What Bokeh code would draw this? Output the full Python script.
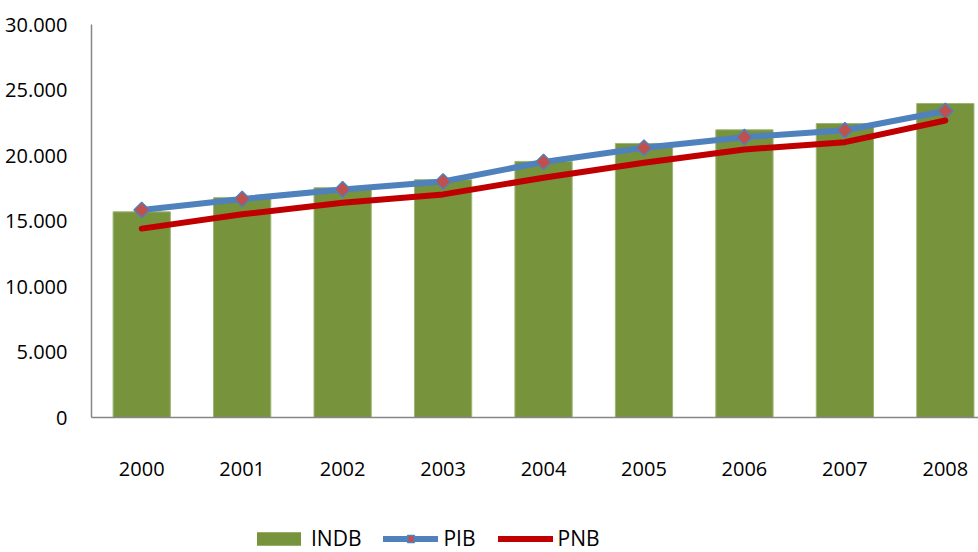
from bokeh.plotting import figure
from bokeh.layouts import column
from bokeh.models import Range1d, FixedTicker, Legend, LegendItem, ColumnDataSource
from bokeh.embed import file_html
from bokeh.resources import INLINE
import math

years = ["2000", "2001", "2002", "2003", "2004", "2005", "2006", "2007", "2008"]
indb = [15700, 16780, 17540, 18150, 19550, 20920, 21960, 22440, 23970]
pib = [15840, 16680, 17410, 18020, 19500, 20590, 21400, 21930, 23400]
pnb = [14420, 15510, 16400, 17030, 18300, 19450, 20460, 21020, 22670]
y_ticks = [0, 5000, 10000, 15000, 20000, 25000, 30000]
y_labels = ["0", "5.000", "10.000", "15.000", "20.000", "25.000", "30.000"]
series_names = ["INDB", "PIB", "PNB"]

x = list(range(len(years)))
src = ColumnDataSource(dict(x=x, indb=indb, pib=pib, pnb=pnb))

FONT = "Open Sans"
BAR_C, PIB_C, MARK_C, PNB_C = "#77933C", "#4F81BD", "#C0504D", "#C00000"

p = figure(width=978, height=512, output_backend="svg", toolbar_location=None,
           x_range=Range1d(-0.5, 8.33), y_range=Range1d(0, 30000),
           min_border_left=91, min_border_right=0, min_border_top=24,
           min_border_bottom=95)
p.outline_line_color = None
p.xgrid.visible = False
p.ygrid.visible = False

p.vbar(x="x", top="indb", width=0.57, source=src, fill_color=BAR_C,
       line_color="#9DB574", line_width=1)
p.line("x", "pib", source=src, line_color=PIB_C, line_width=6,
       line_join="round", line_cap="round")
p.scatter("x", "pib", source=src, marker="square", size=11, angle=math.pi / 4,
          fill_color=MARK_C, line_color=PIB_C, line_width=1.5)
p.line("x", "pnb", source=src, line_color=PNB_C, line_width=6,
       line_join="round", line_cap="round")

# x axis
p.xaxis.ticker = FixedTicker(ticks=x)
p.xaxis.major_label_overrides = {i: y for i, y in enumerate(years)}
p.xaxis.major_tick_line_color = None
p.xaxis.minor_tick_line_color = None
p.xaxis.axis_line_color = "#878787"
p.xaxis.axis_line_width = 1.5
p.xaxis.major_label_standoff = 38
p.xaxis.major_label_text_font = FONT
p.xaxis.major_label_text_font_size = "20px"
p.xaxis.major_label_text_color = "black"

# y axis
p.yaxis.ticker = FixedTicker(ticks=y_ticks)
p.yaxis.major_label_overrides = {t: l for t, l in zip(y_ticks, y_labels)}
p.yaxis.major_tick_line_color = None
p.yaxis.minor_tick_line_color = None
p.yaxis.axis_line_color = "#878787"
p.yaxis.axis_line_width = 1.5
p.yaxis.major_label_standoff = 18
p.yaxis.major_label_text_font = FONT
p.yaxis.major_label_text_font_size = "20px"
p.yaxis.major_label_text_color = "black"

# legend strip (separate figure below the chart)
lg = figure(width=978, height=40, output_backend="svg", toolbar_location=None,
            x_range=Range1d(0, 1), y_range=Range1d(0, 1),
            min_border_left=0, min_border_right=0, min_border_top=0,
            min_border_bottom=0, x_axis_location=None, y_axis_location=None)
lg.outline_line_color = None
lg.xgrid.visible = False
lg.ygrid.visible = False
dummy = ColumnDataSource(dict(x=[-10, -9], y=[-10, -9]))
r_bar = lg.vbar(x="x", top="y", width=0.5, source=dummy, fill_color=BAR_C,
                line_color=None)
r_pib = lg.line("x", "y", source=dummy, line_color=PIB_C, line_width=6,
                line_cap="round")
r_mk = lg.scatter("x", "y", source=dummy, marker="square", size=11,
                  angle=math.pi / 4, fill_color=MARK_C, line_color=PIB_C,
                  line_width=1.5)
r_pnb = lg.line("x", "y", source=dummy, line_color=PNB_C, line_width=6,
                line_cap="round")

legend = Legend(items=[
    LegendItem(label=series_names[0], renderers=[r_bar]),
    LegendItem(label=series_names[1], renderers=[r_pib, r_mk]),
    LegendItem(label=series_names[2], renderers=[r_pnb]),
], orientation="horizontal", location=(160, 0))
legend.glyph_width = 55
legend.glyph_height = 17
legend.label_standoff = 5
legend.spacing = 22
legend.padding = 0
legend.margin = 0
legend.border_line_color = None
legend.background_fill_alpha = 0
legend.label_text_font = FONT
legend.label_text_font_size = "21px"
legend.label_text_color = "black"
lg.add_layout(legend, "center")

layout = column(p, lg, spacing=0)
open("out.html", "w").write(file_html(layout, INLINE))
